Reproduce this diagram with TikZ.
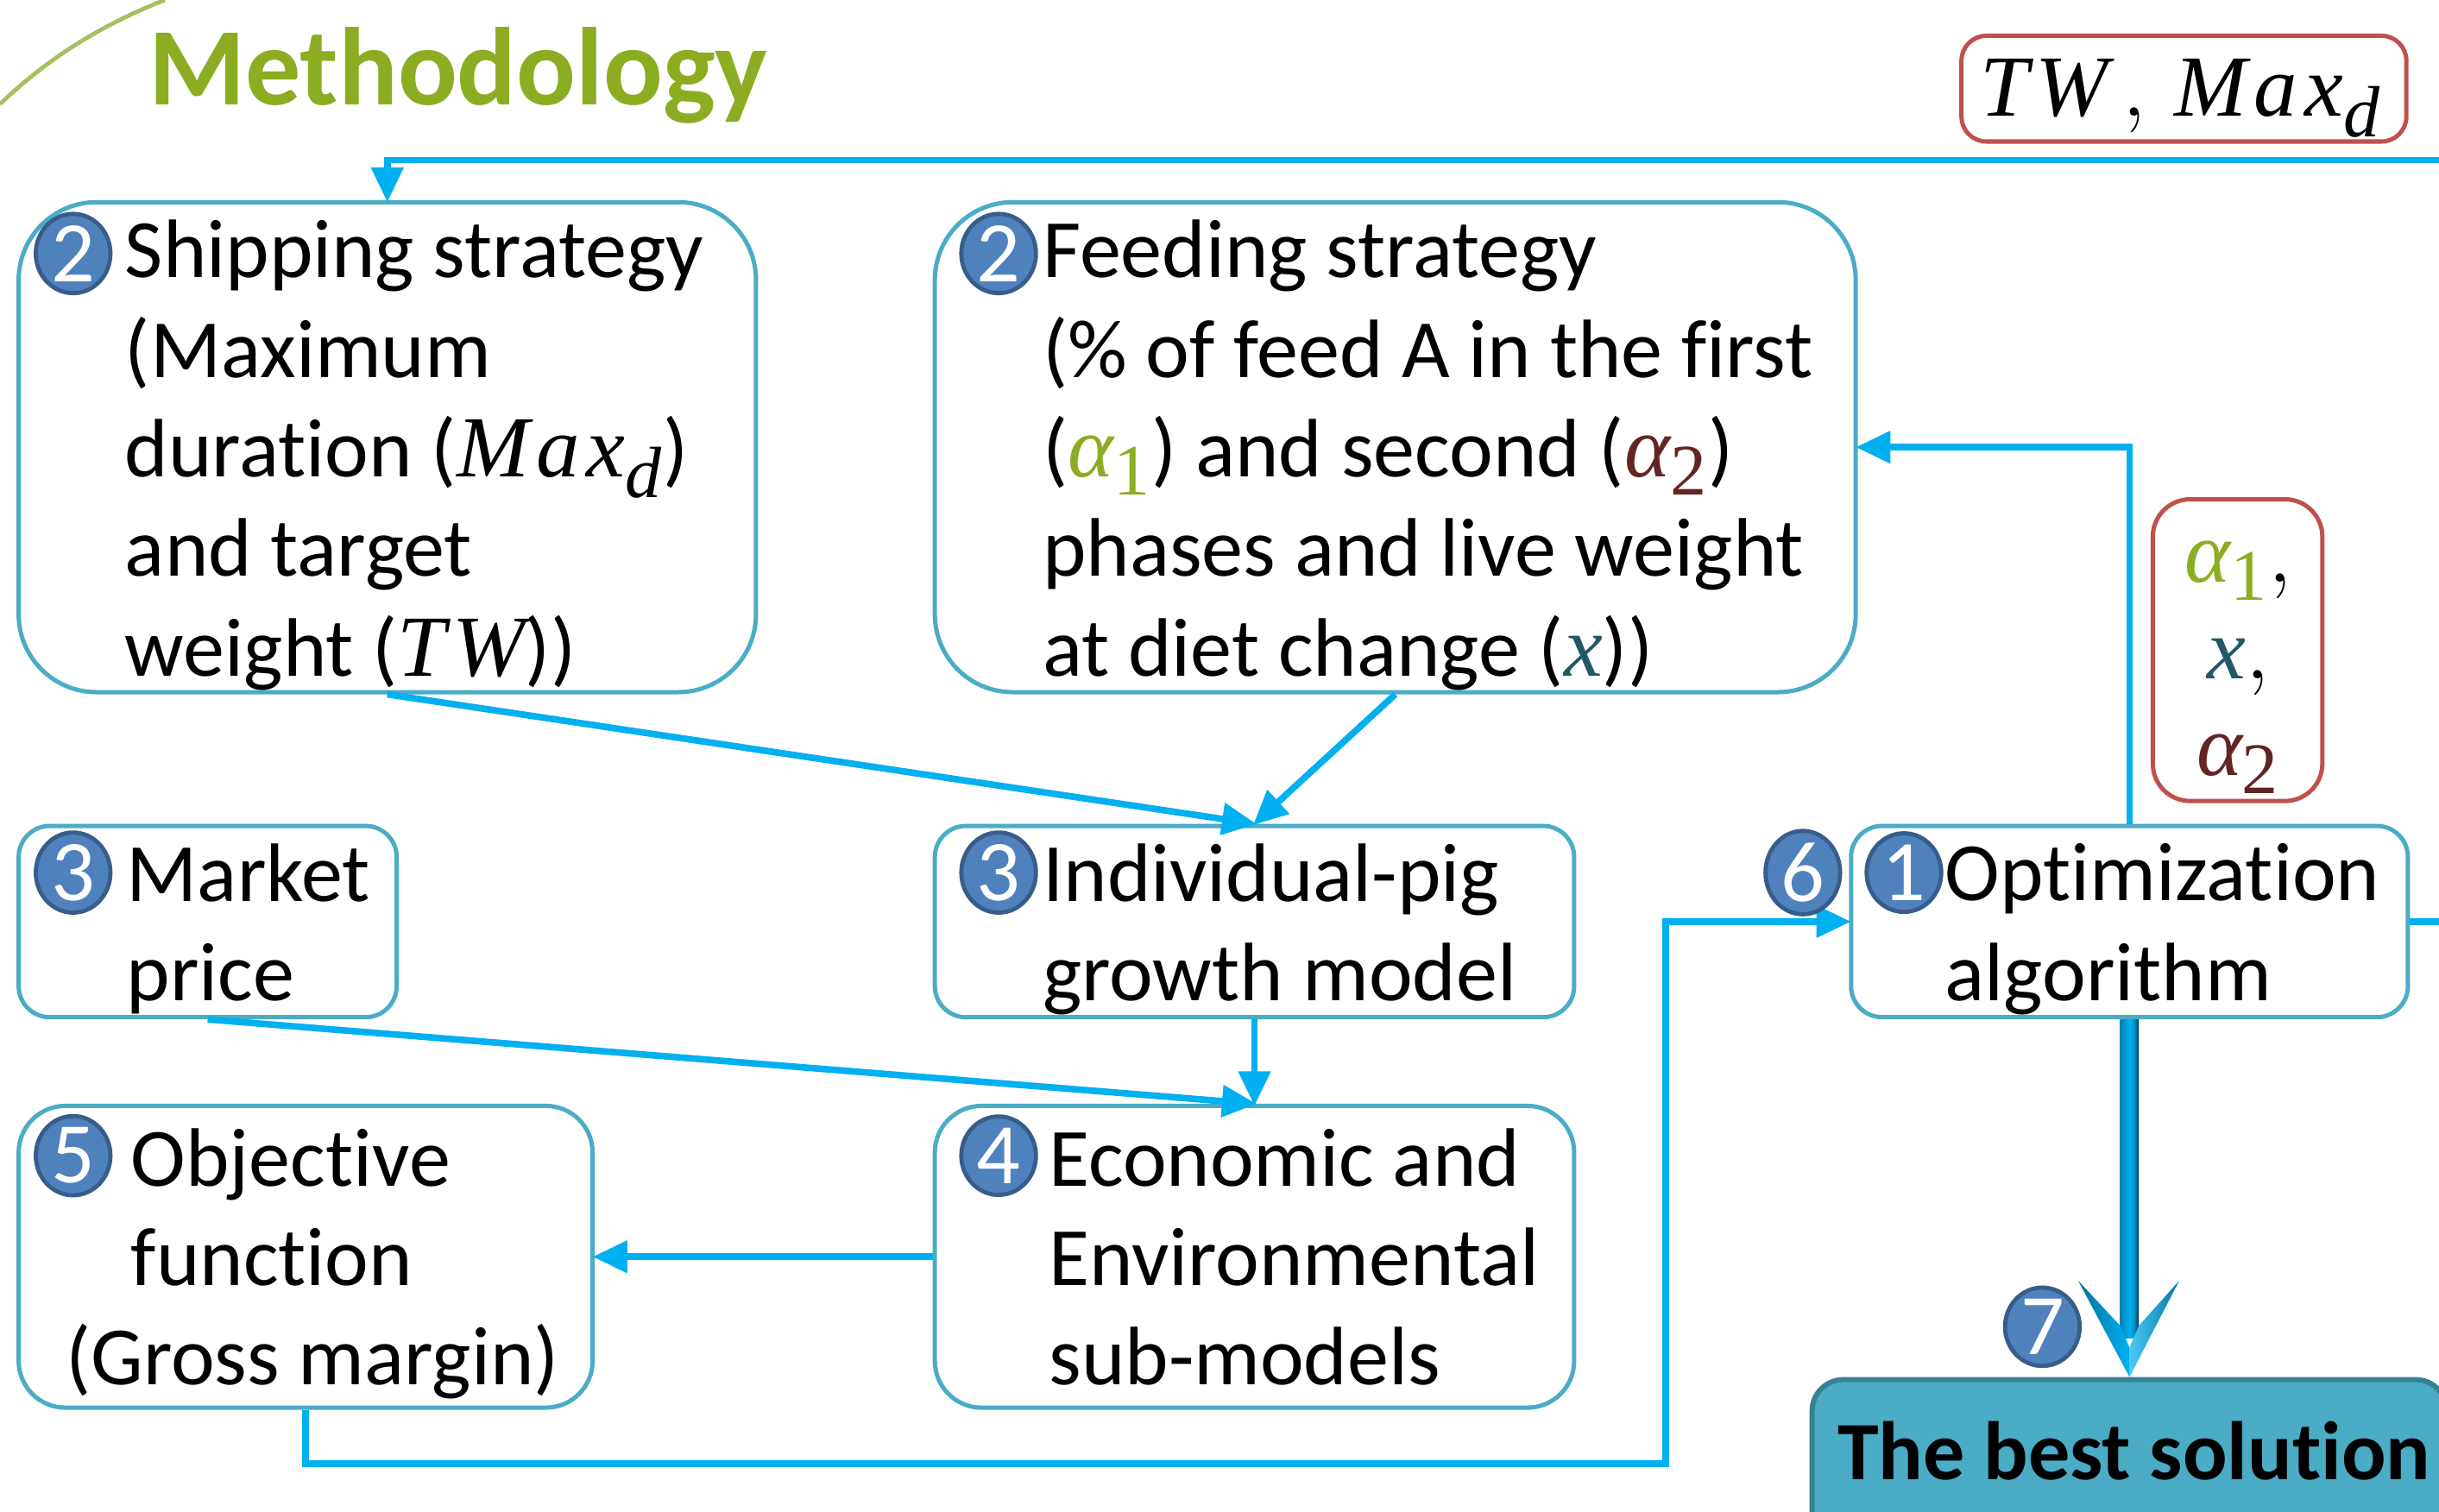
\documentclass[tikz,border=0pt]{standalone}
\usepackage{amsmath}
\usepackage{fontspec}
\setmainfont[Ligatures=NoCommon]{Carlito}
\newfontfamily\varfont[LetterSpace=8,Scale=1.05]{Liberation Serif}
\DeclareMathSizes{24}{24}{20}{16}
\usetikzlibrary{arrows.meta,shapes.geometric,calc}
\definecolor{boxline}{HTML}{4BACC6}
\definecolor{flowblue}{HTML}{00B0F0}
\definecolor{redline}{HTML}{C0504D}
\definecolor{titlegreen}{HTML}{8CAD22}
\definecolor{arcgreen}{HTML}{A4C160}
\definecolor{numfill}{HTML}{4F81BD}
\definecolor{numline}{HTML}{385D8A}
\definecolor{xblue}{HTML}{215868}
\definecolor{alphared}{HTML}{632523}
\pgfdeclarehorizontalshading{shaftshade}{100bp}{color(0bp)=(black!25!flowblue); color(25bp)=(black!25!flowblue); color(50bp)=(flowblue); color(62bp)=(black!15!flowblue); color(70bp)=(black!45!flowblue); color(75bp)=(black!80!flowblue); color(100bp)=(black!80!flowblue)}
\newcommand{\un}{0.45pt}
\newcommand{\vit}[1]{\text{\varfont\itshape #1}}
\newcommand{\vup}[1]{\text{\varfont #1}}
\newcommand{\maxd}{\vit{Max}_{\vit{d}}}
\newcommand{\tw}{\vit{TW}}
\newcommand{\aone}{\textcolor{titlegreen}{\vit{α}_{\vup{1}}}}
\newcommand{\atwo}{\textcolor{alphared}{\vit{α}_{\vup{2}}}}
\newcommand{\xvar}{\textcolor{xblue}{\vit{x}}}
\tikzset{
  box/.style={draw=boxline,line width=1.25pt,inner sep=0pt},
  redbox/.style={draw=redline,line width=1.25pt,inner sep=0pt},
  txt/.style={anchor=north west,inner sep=0pt,align=left,font=\fontsize{24}{28.8}\selectfont},
  flow/.style={draw=flowblue,line width=1.9pt,shorten >=-0.6pt,-{Triangle[length=10pt,width=9pt,fill=flowblue]}},
  stepno/.style={ellipse,draw=numline,fill=numfill,line width=1.2pt,inner sep=0pt,minimum width=48*\un,minimum height=44*\un,text=white,font=\fontsize{25}{25}\selectfont}
}
\begin{document}
\begin{tikzpicture}[x=0.45pt,y=0.45pt,yscale=-1,xscale=1]
\path [use as bounding box,clip] (0,0) rectangle (1568,972);

%Curve Lines
\draw [color=arcgreen,line width=1.2pt] (0,67) .. controls (30,38) and (65,16) .. (106,0);

% Boxes
\node [box,rounded corners=50*\un,minimum width=474*\un,minimum height=315*\un] (ship) at (249,287.5) {};
\node [box,rounded corners=50*\un,minimum width=592*\un,minimum height=315*\un] (feed) at (897,287.5) {};
\node [box,rounded corners=20*\un,minimum width=243*\un,minimum height=123*\un] (market) at (133.5,592.5) {};
\node [box,rounded corners=20*\un,minimum width=411*\un,minimum height=123*\un] (indiv) at (806.5,592.5) {};
\node [box,rounded corners=30*\un,minimum width=369*\un,minimum height=194*\un] (obj) at (196.5,808) {};
\node [box,rounded corners=30*\un,minimum width=411*\un,minimum height=194*\un] (econ) at (806.5,808) {};
\node [box,rounded corners=20*\un,minimum width=358*\un,minimum height=123*\un] (optim) at (1369,592.5) {};
\node [draw=boxline!75!black,fill=boxline,line width=1.5pt,inner sep=0pt,rounded corners=20*\un,minimum width=408*\un,minimum height=120*\un] (best) at (1369,947) {};
\node [redbox,rounded corners=16*\un,minimum width=286*\un,minimum height=68*\un] (twbox) at (1404,57) {};
\node [redbox,rounded corners=24*\un,minimum width=109*\un,minimum height=194*\un] (alphabox) at (1438.5,418) {};

% Free ends and bends
\coordinate (topend) at (1568,103);
\coordinate (rightend) at (1568,592.5);
\coordinate (lowbend) at (1071,941);

%Straight Lines
\draw [flow] (topend) -| (ship.north);
\draw [flow] (ship.south) -- (indiv.north);
\draw [flow] (feed.south) -- (indiv.north);
\draw [flow] (market.south) -- (econ.north);
\draw [flow] (indiv.south) -- (econ.north);
\draw [flow] (econ.west) -- (obj.east);
\draw [flow] (obj.south) |- (lowbend) |- (optim.west);
\draw [flow] (optim.north) |- (feed.east);
\draw [draw=flowblue,line width=1.9pt] (optim.east) -- (rightend);

%Big arrow
\draw [draw=flowblue!80!black,line width=12*\un] (optim.south) -- ($(best.north)+(0,-25)$);
\shade [shading=shaftshade] ($(optim.south)+(-6,0)$) rectangle ($(best.north)+(6,-25)$);
\shade [left color=black!35!flowblue,right color=flowblue] (best.north) -- ($(best.north)+(-33,-62)$) -- ($(best.north)+(-6,-33)$) -- ($(best.north)+(0,-19)$) -- cycle;
\shade [left color=flowblue!70!white,right color=black!30!flowblue] (best.north) -- ($(best.north)+(32,-62)$) -- ($(best.north)+(6,-33)$) -- ($(best.north)+(0,-19)$) -- cycle;

% Text Node
\draw (95,17) node [anchor=north west,inner sep=0pt,text=titlegreen,font=\fontsize{32}{38}\selectfont\bfseries] (title) {Methodology};
% Text Node
\draw (80,141) node [txt] (shiptxt) {Shipping strategy\\(Maximum\\duration ($\maxd$)\\and target\\weight ($\tw$))};
% Text Node
\draw (670,141) node [txt] (feedtxt) {Feeding strategy\\(\% of feed A in the first\\($\aone$) and second ($\atwo$)\\phases and live weight\\at diet change ($\xvar$))};
% Text Node
\draw (81,542) node [txt] (markettxt) {Market\\price};
% Text Node
\draw (670,542) node [txt] (indivtxt) {Individual-pig\\growth model};
% Text Node
\draw (42,725) node [txt] (objtxt) {\hspace*{18.8pt}Objective\\\hspace*{18.8pt}function\\(Gross margin)};
% Text Node
\draw (674,725) node [txt] (econtxt) {Economic and\\Environmental\\sub-models};
% Text Node
\draw (1250,542) node [txt] (optimtxt) {Optimization\\algorithm};
% Text Node
\draw (1372,933) node [font=\fontsize{24}{28.8}\selectfont\bfseries,inner sep=0pt] (besttxt) {The best solution};
% Text Node
\draw (1402,63) node [inner sep=0pt,font=\fontsize{24}{28.8}\selectfont] (twtxt) {$\tw\,,\,\maxd$};
% Text Node
\draw (1439,429) node [inner sep=0pt,align=center,font=\fontsize{24}{28}\selectfont] (alphatxt) {$\aone,$\\$\xvar,$\\$\atwo$};

% Numbers
\node [stepno] (n2a) at (47,163) {2};
\node [stepno] (n2b) at (642,163) {2};
\node [stepno] (n3a) at (47,561) {3};
\node [stepno] (n3b) at (642,561) {3};
\node [stepno] (n5) at (47,743) {5};
\node [stepno] (n4) at (642,743) {4};
\node [stepno] (n6) at (1159,561) {6};
\node [stepno] (n1) at (1224,561) {1};
\node [stepno] (n7) at (1313,853) {7};
\end{tikzpicture}
\end{document}
